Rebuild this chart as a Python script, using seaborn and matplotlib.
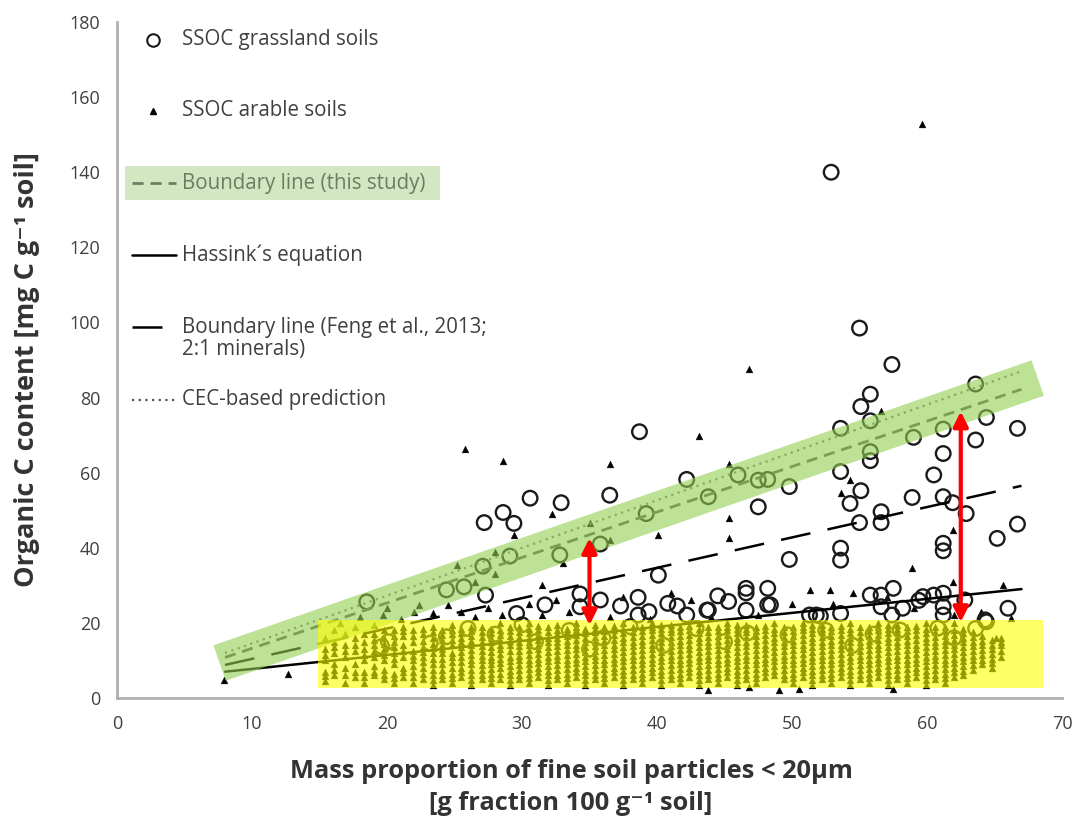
import matplotlib
matplotlib.use("Agg")
import matplotlib.pyplot as plt
import seaborn as sns
import pandas as pd

sns.set_theme(style="white")
plt.rcParams['font.family'] = ['Open Sans', 'DejaVu Sans']

# --- SSOC grassland soils (open circles) ---
grass_x = [52.9, 55.0, 57.4, 55.8, 55.1, 63.6, 53.6, 55.8, 59.0, 61.2, 64.4, 66.7, 63.6, 55.8, 55.8,
           61.2, 53.6, 60.5, 49.8, 55.1, 54.3, 58.9, 61.2, 61.9, 62.9, 56.6, 56.6, 55.0, 66.7, 65.2,
           61.2, 61.2, 53.6, 53.6, 49.8, 57.5, 55.8, 56.6, 56.6, 51.3, 52.1, 53.6, 57.4, 58.2, 59.7,
           60.5, 61.2, 61.2, 61.2, 62.8, 66.0, 64.4, 63.6, 59.4, 42.2, 36.5, 32.9, 46.0, 47.5, 48.2,
           47.5, 43.8, 39.2, 35.8, 32.8, 40.1, 34.3, 34.3, 35.8, 37.3, 38.6, 38.6, 39.4, 40.8, 41.5,
           44.5, 45.3, 43.8, 46.6, 46.6, 48.2, 48.2, 46.6, 42.2, 31.7, 30.6, 28.6, 29.4, 27.2, 29.1,
           27.1, 25.7, 24.4, 18.5, 27.3, 29.6, 38.7,
           19.6, 23.2, 24.4, 20.1, 42.9, 46.7, 49.7, 58.0, 60.8, 64.3, 51.8, 48.4, 43.7,
           28.0, 31.0, 33.5, 36.0, 38.0, 40.5, 45.0, 52.5, 54.5, 56.0, 62.0, 30.0, 26.0, 35.0]
grass_y = [140.0, 98.5, 88.8, 80.9, 77.6, 83.6, 71.8, 73.8, 69.4, 71.6, 74.7, 71.8, 68.7, 65.6, 63.2,
           65.1, 60.3, 59.4, 56.3, 55.2, 51.8, 53.4, 53.6, 52.0, 49.1, 49.6, 46.7, 46.7, 46.3, 42.5,
           41.2, 39.2, 39.9, 36.7, 36.9, 29.2, 27.4, 27.4, 24.3, 22.1, 21.8, 22.5, 22.1, 23.9, 27.0,
           27.4, 27.9, 24.3, 22.1, 26.1, 23.9, 20.3, 18.5, 26.0, 58.2, 54.0, 52.0, 59.4, 58.0, 58.2,
           50.9, 53.6, 49.1, 41.0, 38.1, 32.7, 27.7, 24.3, 26.1, 24.5, 26.8, 22.1, 23.0, 25.2, 24.5,
           27.2, 25.7, 23.4, 29.2, 28.0, 29.2, 24.8, 23.4, 22.1, 24.8, 53.2, 49.4, 46.5, 46.7, 37.8,
           35.1, 29.6, 28.8, 25.6, 27.4, 22.5, 70.9,
           13.7, 14.6, 16.3, 15.0, 18.5, 17.3, 16.8, 18.1, 18.6, 20.8, 22.1, 24.8, 23.4,
           17.0, 15.0, 18.0, 16.0, 19.0, 14.0, 15.0, 18.0, 14.0, 17.0, 16.0, 19.5, 18.5, 13.0]

# --- SSOC arable soils (small triangles), scattered points ---
arable_x = [59.6, 25.8, 28.6, 36.5, 43.1, 46.8, 45.3, 45.3, 45.3, 40.1, 32.2, 35.0, 29.4, 25.2, 56.6,
            54.3, 53.6, 61.9, 58.9, 51.3, 52.8, 61.9, 7.9, 12.7, 43.8, 46.8, 49.0, 50.5, 57.5, 22.4,
            23.4, 24.5, 19.7, 21.0, 22.0, 25.5, 26.5, 27.5, 28.5, 30.5, 31.5, 32.5, 33.5, 36.5, 37.5,
            39.5, 41.0, 42.5, 44.0, 47.5, 50.0, 53.0, 54.5, 57.0, 59.0, 62.0, 64.0, 65.6, 65.1, 66.2,
            16.5, 18.0, 20.0, 26.5, 28.0, 31.5, 33.0, 36.5, 28.0]
arable_y = [152.8, 66.2, 63.2, 62.3, 69.8, 87.5, 62.3, 47.8, 42.5, 43.4, 49.1, 46.5, 43.4, 35.4, 76.5,
            58.0, 54.7, 44.7, 34.5, 28.8, 28.8, 31.0, 4.8, 6.5, 2.1, 2.8, 2.1, 2.3, 2.3, 24.8,
            22.6, 24.8, 22.1, 21.0, 23.0, 23.0, 21.5, 24.0, 22.0, 25.0, 22.0, 26.0, 23.0, 21.5, 27.0,
            21.0, 28.0, 26.0, 21.5, 22.0, 25.0, 25.0, 28.0, 27.0, 24.0, 22.0, 23.0, 30.0, 15.9, 21.2,
            20.0, 21.5, 24.0, 31.0, 33.0, 30.0, 36.0, 42.0, 39.0]

# --- arable soils, dense columns under the yellow box ---
col_x = [15.4, 16.1, 16.9, 17.6, 18.3, 19.0, 19.8, 20.5, 21.2, 21.9, 22.7, 23.4, 24.1, 24.8, 25.5,
         26.2, 27.0, 27.7, 28.4, 29.1, 29.8, 30.5, 31.2, 31.9, 32.6, 33.3, 34.0, 34.7, 35.4, 36.1,
         36.8, 37.5, 38.2, 38.9, 39.6, 40.3, 41.0, 41.7, 42.4, 43.1, 43.8, 44.5, 45.2, 45.9, 46.6,
         47.3, 48.0, 48.7, 49.4, 50.1, 50.8, 51.5, 52.2, 52.9, 53.6, 54.3, 55.0, 55.7, 56.4, 57.1,
         57.8, 58.5, 59.2, 59.9, 60.6, 61.3, 62.0, 62.7, 63.4, 64.1, 64.8, 65.5]
col_y = [[4.5, 7, 10, 13, 16], [6, 9, 12, 15, 18], [4, 8, 11, 14], [5.5, 9, 12.5, 16, 19],
         [4, 7, 10, 13, 15], [6, 8.5, 11, 14, 17, 19.5], [5, 7.5, 10, 13, 16], [4, 6.5, 9, 12, 15, 18],
         [5.5, 8, 11, 14, 16.5, 19], [4, 7, 10, 12.5, 15, 18], [5, 8, 11, 13.5, 17],
         [3.5, 6, 9, 12, 14.5, 16, 19], [5, 7.5, 10.5, 13, 15.5, 18], [4, 6.5, 9.5, 12, 14, 17, 19.5],
         [5.5, 8, 11, 13.5, 16, 18.5], [3.5, 6, 9, 11.5, 14, 16.5, 19], [5, 7.5, 10, 12.5, 15, 17.5],
         [4, 6.5, 9, 11, 13.5, 16, 18.5], [5, 8, 10.5, 13, 15.5, 18, 20], [3.5, 6, 8.5, 11, 14, 16.5, 19],
         [5, 7.5, 10, 12.5, 15, 17.5], [4, 6.5, 9, 11.5, 14, 16, 18.5, 20], [5.5, 8, 10.5, 13, 15.5, 18],
         [3.5, 6, 8.5, 11, 13.5, 16, 19], [5, 7.5, 10, 12.5, 15, 17, 19.5], [4, 6.5, 9, 11.5, 14, 16.5, 18.5],
         [5.5, 8, 10.5, 13, 15.5, 18, 20], [3.5, 6, 8.5, 11, 13.5, 16, 18.5], [5, 7.5, 10, 12.5, 15, 17.5, 19.5],
         [4, 6.5, 9, 11.5, 14, 16.5, 19], [5.5, 8, 10.5, 13, 15.5, 18], [3.5, 6, 8.5, 11, 13.5, 16, 18.5, 20],
         [5, 7.5, 10, 12.5, 15, 17.5], [4, 6.5, 9, 11.5, 14, 16.5, 19], [5.5, 8, 10.5, 13, 15.5, 18, 20],
         [3.5, 6, 8.5, 11, 13.5, 16, 18.5], [5, 7.5, 10, 12.5, 15, 17.5, 19.5], [4, 6.5, 9, 11.5, 14, 16.5, 19],
         [5.5, 8, 10.5, 13, 15.5, 18], [3.5, 6, 8.5, 11, 13.5, 16, 18.5, 20], [5, 7.5, 10, 12.5, 15, 17.5],
         [4, 6.5, 9, 11.5, 14, 16.5, 19], [5.5, 8, 10.5, 13, 15.5, 18, 20], [3.5, 6, 8.5, 11, 13.5, 16, 18.5],
         [5, 7.5, 10, 12.5, 15, 17.5, 19.5], [4, 6.5, 9, 11.5, 14, 16.5, 19], [5.5, 8, 10.5, 13, 15.5, 18],
         [6, 8.5, 11, 13.5, 16, 18.5, 20], [5, 7.5, 10, 12.5, 15, 17.5], [4, 6.5, 9, 11.5, 14, 16.5, 19],
         [5.5, 8, 10.5, 13, 15.5, 18, 20], [3.5, 6, 8.5, 11, 13.5, 16, 18.5], [5, 7.5, 10, 12.5, 15, 17.5, 19.5],
         [4, 6.5, 9, 11.5, 14, 16.5, 19], [5.5, 8, 10.5, 13, 15.5, 18], [3.5, 6, 8.5, 11, 13.5, 16, 18.5, 20],
         [5, 7.5, 10, 12.5, 15, 17.5], [4, 6.5, 9, 11.5, 14, 16.5, 19], [5.5, 8, 10.5, 13, 15.5, 18, 20],
         [3.5, 6, 8.5, 11, 13.5, 16, 18.5], [5, 7.5, 10, 12.5, 15, 17.5, 19.5], [4, 6.5, 9, 11.5, 14, 16.5, 19],
         [5.5, 8, 10.5, 13, 15.5, 18], [3.5, 6, 8.5, 11, 13.5, 16, 18.5, 20], [5, 7.5, 10, 12.5, 15, 17.5],
         [4, 6.5, 9, 11.5, 14, 16.5, 19], [5.5, 8, 10.5, 13, 15.5, 18, 20], [6, 8.5, 11, 13.5, 16, 18.5],
         [7.5, 10, 12.5, 15, 17.5], [9, 11.5, 14, 16.5], [8, 10.5, 13, 15.5], [11, 14, 16]]
# second, in-between points of the same columns
col_y2 = [[5.8, 11.5], [7.5, 13.5], [6, 12.5, 17], [7, 14], [5.5, 11.5, 17], [7, 12.5, 15.5], [6.2, 11.5, 14.5, 18],
          [5.2, 10.5, 13.5, 16.5], [6.8, 12.5, 17.8], [5.5, 8.5, 11.2, 16.5], [6.5, 9.5, 12.2, 15.2, 18.5],
          [4.8, 7.5, 10.5, 13.2, 17.5], [6.2, 9, 12, 14.2, 16.8], [5.2, 8, 10.8, 15.5, 18.2],
          [6.8, 9.5, 12.2, 14.8, 17.2], [4.8, 7.5, 10.2, 12.8, 15.2, 17.8], [6.2, 8.8, 11.2, 13.8, 16.2, 18.8],
          [5.2, 7.8, 10.2, 12.2, 14.8, 17.2], [6.5, 9.2, 11.8, 14.2, 16.8], [4.8, 7.2, 9.8, 12.5, 15.2, 17.8],
          [6.2, 8.8, 11.2, 13.8, 16.2, 18.8], [5.2, 7.8, 10.2, 12.8, 15, 17.2], [6.8, 9.2, 11.8, 14.2, 16.8, 19.2],
          [4.8, 7.2, 9.8, 12.2, 14.8, 17.5], [6.2, 8.8, 11.2, 13.8, 16, 18.2], [5.2, 7.8, 10.2, 12.8, 15.2, 17.5],
          [6.8, 9.2, 11.8, 14.2, 16.8, 19], [4.8, 7.2, 9.8, 12.2, 14.8, 17.2], [6.2, 8.8, 11.2, 13.8, 16.2, 18.5],
          [5.2, 7.8, 10.2, 12.8, 15.2, 17.8], [6.8, 9.2, 11.8, 14.2, 16.8, 19.2], [4.8, 7.2, 9.8, 12.2, 14.8, 17.2],
          [6.2, 8.8, 11.2, 13.8, 16.2, 18.8], [5.2, 7.8, 10.2, 12.8, 15.2, 17.8], [6.8, 9.2, 11.8, 14.2, 16.8, 19],
          [4.8, 7.2, 9.8, 12.2, 14.8, 17.2, 19.5], [6.2, 8.8, 11.2, 13.8, 16.2, 18.5], [5.2, 7.8, 10.2, 12.8, 15.2, 17.8],
          [6.8, 9.2, 11.8, 14.2, 16.8, 19.2], [4.8, 7.2, 9.8, 12.2, 14.8, 17.2], [6.2, 8.8, 11.2, 13.8, 16.2, 18.8],
          [5.2, 7.8, 10.2, 12.8, 15.2, 17.8], [6.8, 9.2, 11.8, 14.2, 16.8, 19], [4.8, 7.2, 9.8, 12.2, 14.8, 17.2, 19.5],
          [6.2, 8.8, 11.2, 13.8, 16.2, 18.5], [5.2, 7.8, 10.2, 12.8, 15.2, 17.8], [6.8, 9.2, 11.8, 14.2, 16.8, 19.2],
          [7.2, 9.8, 12.2, 14.8, 17.2], [6.2, 8.8, 11.2, 13.8, 16.2, 18.8], [5.2, 7.8, 10.2, 12.8, 15.2, 17.8],
          [6.8, 9.2, 11.8, 14.2, 16.8, 19], [4.8, 7.2, 9.8, 12.2, 14.8, 17.2, 19.5], [6.2, 8.8, 11.2, 13.8, 16.2, 18.5],
          [5.2, 7.8, 10.2, 12.8, 15.2, 17.8], [6.8, 9.2, 11.8, 14.2, 16.8, 19.2], [4.8, 7.2, 9.8, 12.2, 14.8, 17.2],
          [6.2, 8.8, 11.2, 13.8, 16.2, 18.8], [5.2, 7.8, 10.2, 12.8, 15.2, 17.8], [6.8, 9.2, 11.8, 14.2, 16.8, 19],
          [4.8, 7.2, 9.8, 12.2, 14.8, 17.2, 19.5], [6.2, 8.8, 11.2, 13.8, 16.2, 18.5], [5.2, 7.8, 10.2, 12.8, 15.2, 17.8],
          [6.8, 9.2, 11.8, 14.2, 16.8, 19.2], [4.8, 7.2, 9.8, 12.2, 14.8, 17.2], [6.2, 8.8, 11.2, 13.8, 16.2, 18.8],
          [5.2, 7.8, 10.2, 12.8, 15.2, 17.8], [6.8, 9.2, 11.8, 14.2, 16.8], [7.2, 9.8, 12.2, 14.8, 17.2],
          [8.8, 11.2, 13.8, 16.2], [10.2, 12.8, 15.2], [9.2, 11.8, 14.2], [12.5, 15]]

# --- reference lines (end points) ---
line_x = [8.0, 67.0]
boundary_y = [10.8, 82.2]     # boundary line (this study)
hassink_y = [7.0, 29.0]       # Hassink's equation
feng_y = [8.8, 56.5]          # Feng et al. 2013, 2:1 minerals
cec_y = [12.0, 87.0]          # CEC-based prediction

# --- highlights ---
band_x = [7.6, 68.2]
band_y = [9.3, 85.2]
box_x = [14.9, 68.6]
box_y = [2.7, 20.8]
arrow_x = [35.0, 62.5]
arrow_lo = [19.4, 20.2]
arrow_hi = [42.6, 76.3]

arable_all_x = list(arable_x)
arable_all_y = list(arable_y)
for cx, ys, ys2 in zip(col_x, col_y, col_y2):
    arable_all_x += [cx] * (len(ys) + len(ys2))
    arable_all_y += ys + ys2
df_arable = pd.DataFrame({'x': arable_all_x, 'y': arable_all_y})
df_grass = pd.DataFrame({'x': grass_x, 'y': grass_y})

fig = plt.figure(figsize=(10.75, 8.27), dpi=100)
ax = fig.add_axes([117 / 1075, 1 - 698 / 827, 945 / 1075, 676 / 827])

sns.scatterplot(data=df_arable, x='x', y='y', marker='^', s=24, color='black',
                edgecolor='black', linewidth=0.3, ax=ax, zorder=2)
sns.scatterplot(data=df_grass, x='x', y='y', marker='o', s=110, color='black',
                linewidth=1.7, ax=ax, zorder=3)
ax.collections[-1].set_facecolor('none')
ax.collections[-1].set_edgecolor('#1a1a1a')

sns.lineplot(x=line_x, y=hassink_y, color='black', linewidth=1.8, ax=ax, zorder=4)
sns.lineplot(x=line_x, y=feng_y, color='black', linewidth=1.8, ax=ax, zorder=4)
ax.lines[-1].set_dashes([12, 7])
sns.lineplot(x=line_x, y=boundary_y, color='#555555', linewidth=2.0, ax=ax, zorder=4)
ax.lines[-1].set_dashes([4, 2.5])
sns.lineplot(x=line_x, y=cec_y, color='#777777', linewidth=1.6, ax=ax, zorder=4)
ax.lines[-1].set_dashes([1, 2])

# green band and yellow box drawn over the points
ax.plot(band_x, band_y, color='#92d050', alpha=0.6, linewidth=27, solid_capstyle='butt', zorder=5)
ax.fill_between(box_x, box_y[0], box_y[1], color='#ffff00', alpha=0.6, linewidth=0, zorder=5)

for xa, lo, hi in zip(arrow_x, arrow_lo, arrow_hi):
    ax.annotate('', xy=(xa, hi), xytext=(xa, lo),
                arrowprops=dict(arrowstyle='<|-|>', color='#ff0000', lw=3,
                                mutation_scale=22, shrinkA=0, shrinkB=0), zorder=6)

ax.set_xlim(0, 70)
ax.set_ylim(0, 180)
ax.set_xticks(range(0, 71, 10))
ax.set_yticks(range(0, 181, 20))
ax.set_xlabel('')
ax.set_ylabel('')
for s in ['top', 'right']:
    ax.spines[s].set_visible(False)
for s in ['left', 'bottom']:
    ax.spines[s].set_color('#b0b0b0')
    ax.spines[s].set_linewidth(2)
ax.tick_params(axis='both', which='major', direction='out', length=6, width=1.5,
               color='#b0b0b0', labelsize=13, labelcolor='#404040', pad=6)

# hand-placed legend, in pixel positions of the figure
def px(x, y):
    return ((x - 117) / 945, (698 - y) / 676)

tx = 182
lkw = dict(transform=ax.transAxes, clip_on=False, zorder=8)
text_kw = dict(transform=ax.transAxes, fontsize=14.8, color='#404040', va='center', ha='left', zorder=9)

ax.plot(*px(153, 40), marker='o', ms=9, mfc='none', mec='#1a1a1a', mew=1.5, **lkw)
ax.text(*px(tx, 40), 'SSOC grassland soils', **text_kw)
ax.plot(*px(153, 111), marker='^', ms=4, color='black', **lkw)
ax.text(*px(tx, 111), 'SSOC arable soils', **text_kw)

ax.add_patch(plt.Rectangle(px(125, 200), 315 / 945, 34 / 676, transform=ax.transAxes,
                           facecolor='#d3e7c3', edgecolor='none', zorder=7, clip_on=False))
l1, = ax.plot([px(132, 0)[0], px(176, 0)[0]], [px(0, 183)[1]] * 2, color='#6f7f66', lw=2, **lkw)
l1.set_dashes([4, 2.5])
t = ax.text(*px(tx, 183), 'Boundary line (this study)', **text_kw)
t.set_color('#6b7d62')

ax.plot([px(132, 0)[0], px(176, 0)[0]], [px(0, 255)[1]] * 2, color='black', lw=1.8, **lkw)
ax.text(*px(tx, 255), 'Hassink\u00b4s equation', **text_kw)

l2, = ax.plot([px(132, 0)[0], px(178, 0)[0]], [px(0, 327)[1]] * 2, color='black', lw=1.8, **lkw)
l2.set_dashes([12, 7])
ax.text(*px(tx, 327), 'Boundary line (Feng et al., 2013;', **text_kw)
ax.text(*px(tx, 349), '2:1 minerals)', **text_kw)

l3, = ax.plot([px(132, 0)[0], px(176, 0)[0]], [px(0, 400)[1]] * 2, color='#555555', lw=1.6, **lkw)
l3.set_dashes([1, 2])
ax.text(*px(tx, 400), 'CEC-based prediction', **text_kw)

# axis titles
fig.text(571 / 1075, 1 - 771 / 827, 'Mass proportion of fine soil particles < 20\u00b5m',
         fontsize=18.3, fontweight='bold', color='#333333', ha='center', va='center')
fig.text(571 / 1075, 1 - 804 / 827, '[g fraction 100 g\u207b\u00b9 soil]',
         fontsize=18.3, fontweight='bold', color='#333333', ha='center', va='center')
fig.text(27 / 1075, 1 - 370 / 827, 'Organic C content [mg C g\u207b\u00b9 soil]',
         fontsize=19.5, fontweight='bold', color='#333333', ha='center', va='center', rotation=90)

fig.savefig('out.png', dpi=100, facecolor='white')
